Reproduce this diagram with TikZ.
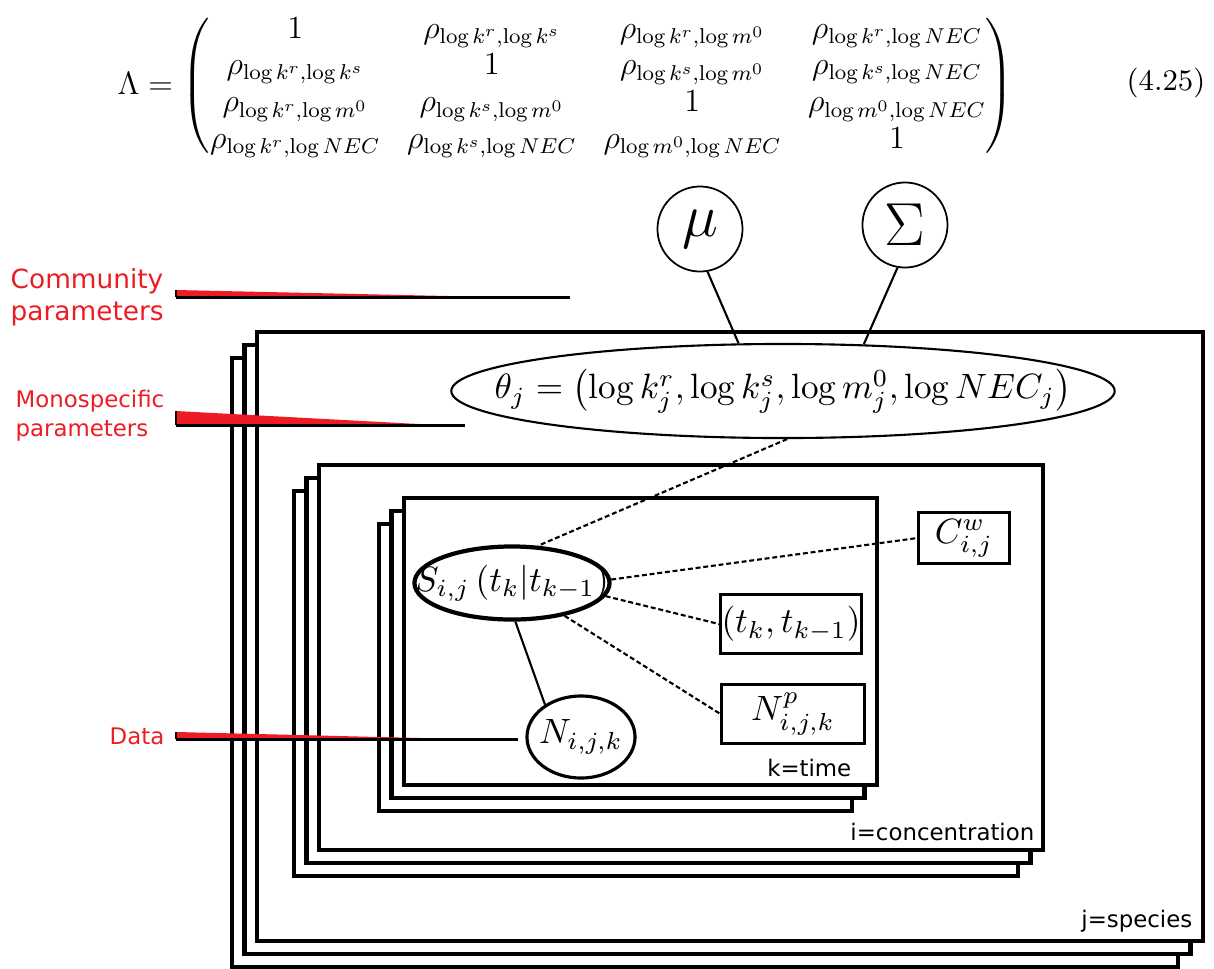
\documentclass[tikz,border=0pt]{standalone}
\usepackage{amsmath}
\usepackage{fontspec}
\setsansfont{DejaVu Sans}
\usetikzlibrary{shapes.geometric,calc}
\definecolor{labred}{RGB}{237,28,36}
\renewcommand{\arraystretch}{0.9}
\newcommand{\stackplate}[8]{%
  \foreach \o in {2,1,0} {
    \draw[plate] ({#2-12.5*\o},{#3+13*\o}) rectangle ({#4-12.5*\o},{#5+13*\o});
  }
  \node[platelab,anchor=base east] (#1) at (#7,#8) {#6};
}

\begin{document}
\begin{tikzpicture}[x=0.01cm,y=-0.01cm,
  plate/.style={draw,line width=1.2pt,fill=white},
  platelab/.style={inner sep=0pt,font=\sffamily\fontsize{6.5}{8}\selectfont},
  redlab/.style={inner sep=0pt,align=left,text=labred,font=\sffamily\fontsize{6.5}{8.3}\selectfont},
  hyper/.style={circle,draw,line width=0.5pt,minimum size=0.85cm,inner sep=0pt,font=\fontsize{17.28}{20}\selectfont},
  latent/.style={ellipse,draw,inner xsep=-60pt,inner ysep=-10pt},
  obs/.style={rectangle,draw,line width=0.85pt,inner sep=0pt},
  link/.style={line width=0.6pt},
  dep/.style={line width=0.6pt,dash pattern=on 1.4pt off 0.8pt}]
\useasboundingbox (0,0) rectangle (1214,969);

\node[anchor=west,inner sep=0pt,scale=0.765,font=\fontsize{12}{15.2}\selectfont] (lam) at (117,86) {$\Lambda = \begin{pmatrix}
  1 & \rho_{\log k^r,\log k^s} & \rho_{\log k^r,\log m^0} & \rho_{\log k^r,\log NEC}\\
  \rho_{\log k^r,\log k^s} & 1 & \rho_{\log k^s,\log m^0} & \rho_{\log k^s,\log NEC}\\
  \rho_{\log k^r,\log m^0} & \rho_{\log k^s,\log m^0} & 1 & \rho_{\log m^0,\log NEC}\\
  \rho_{\log k^r,\log NEC} & \rho_{\log k^s,\log NEC} & \rho_{\log m^0,\log NEC} & 1
\end{pmatrix}$};
\node[inner sep=0pt,font=\fontsize{8.5}{10}\selectfont] (eqno) at (1166,83) {(4.25)};

\stackplate{jlab}{257}{332}{1203}{941}{j=species}{1193}{927}
\stackplate{ilab}{319}{465}{1043}{850}{i=concentration}{1035}{840}
\stackplate{klab}{404}{498}{877}{785}{k=time}{852}{776}

\node[hyper] (mu) at (700,229) {$\mu$};
\node[hyper] (Sigma) at (905,225) {$\Sigma$};
\node[latent,line width=0.6pt,minimum width=6.63cm,minimum height=0.94cm] (theta) at (783,391)
  {$\theta_j = \left(\log k_j^r, \log k_j^s, \log m_j^0, \log NEC_j\right)$};
\node[latent,line width=1.2pt,minimum width=1.95cm,minimum height=0.73cm] (S) at (512,583)
  {$S_{i,j}\left(t_k|t_{k-1}\right)$};
\node[latent,line width=0.9pt,minimum width=1.08cm,minimum height=0.82cm] (N) at (581,737) {$N_{i,j,k}$};
\node[obs,minimum width=1.41cm,minimum height=0.59cm] (tk) at (791,624) {$(t_k,t_{k-1})$};
\node[obs,minimum width=1.42cm,minimum height=0.59cm] (Np) at (793,714) {$N^p_{i,j,k}$};
\node[obs,minimum width=0.90cm,minimum height=0.50cm] (Cw) at (964,538) {$C^w_{i,j}$};

\draw[link] (mu.-80) -- (theta.133);
\draw[link] (Sigma.-100) -- (theta.30);
\draw[dep] (theta.-85) -- (S.55);
\draw[dep] (S.2) -- (Cw.west);
\draw[dep] (S.-8) -- (tk.west);
\draw[dep] (S.-32) -- (Np.west);
\draw[link] (S.-85) -- (N.138);

\node[redlab,anchor=west,font=\sffamily\fontsize{7.5}{9.1}\selectfont] (community) at (10,297) {Community\\parameters};
\node[redlab,anchor=west] (mono) at (15,416) {Monospecific\\parameters};
\node[redlab,anchor=east] (data) at (165,736) {Data};

\coordinate (commend) at (570,297);
\coordinate (monoend) at (465,425);
\foreach \n/\yt/\yl/\xt in {comm/290/297/493,mono/411/425/437,data/732/739/460} {
  \coordinate (\n) at (176,\yl);
  \fill[labred] (176,\yt) -- (\n) -- (\xt,\yl) -- cycle;
  \draw[line width=0.85pt] (176,\yt) -- (\n);
}
\draw[line width=0.85pt] (comm) -- (commend);
\draw[line width=0.85pt] (mono) -- (monoend);
\draw[line width=0.85pt,shorten >=2pt] (data) -- (data -| N.west);
\end{tikzpicture}
\end{document}
